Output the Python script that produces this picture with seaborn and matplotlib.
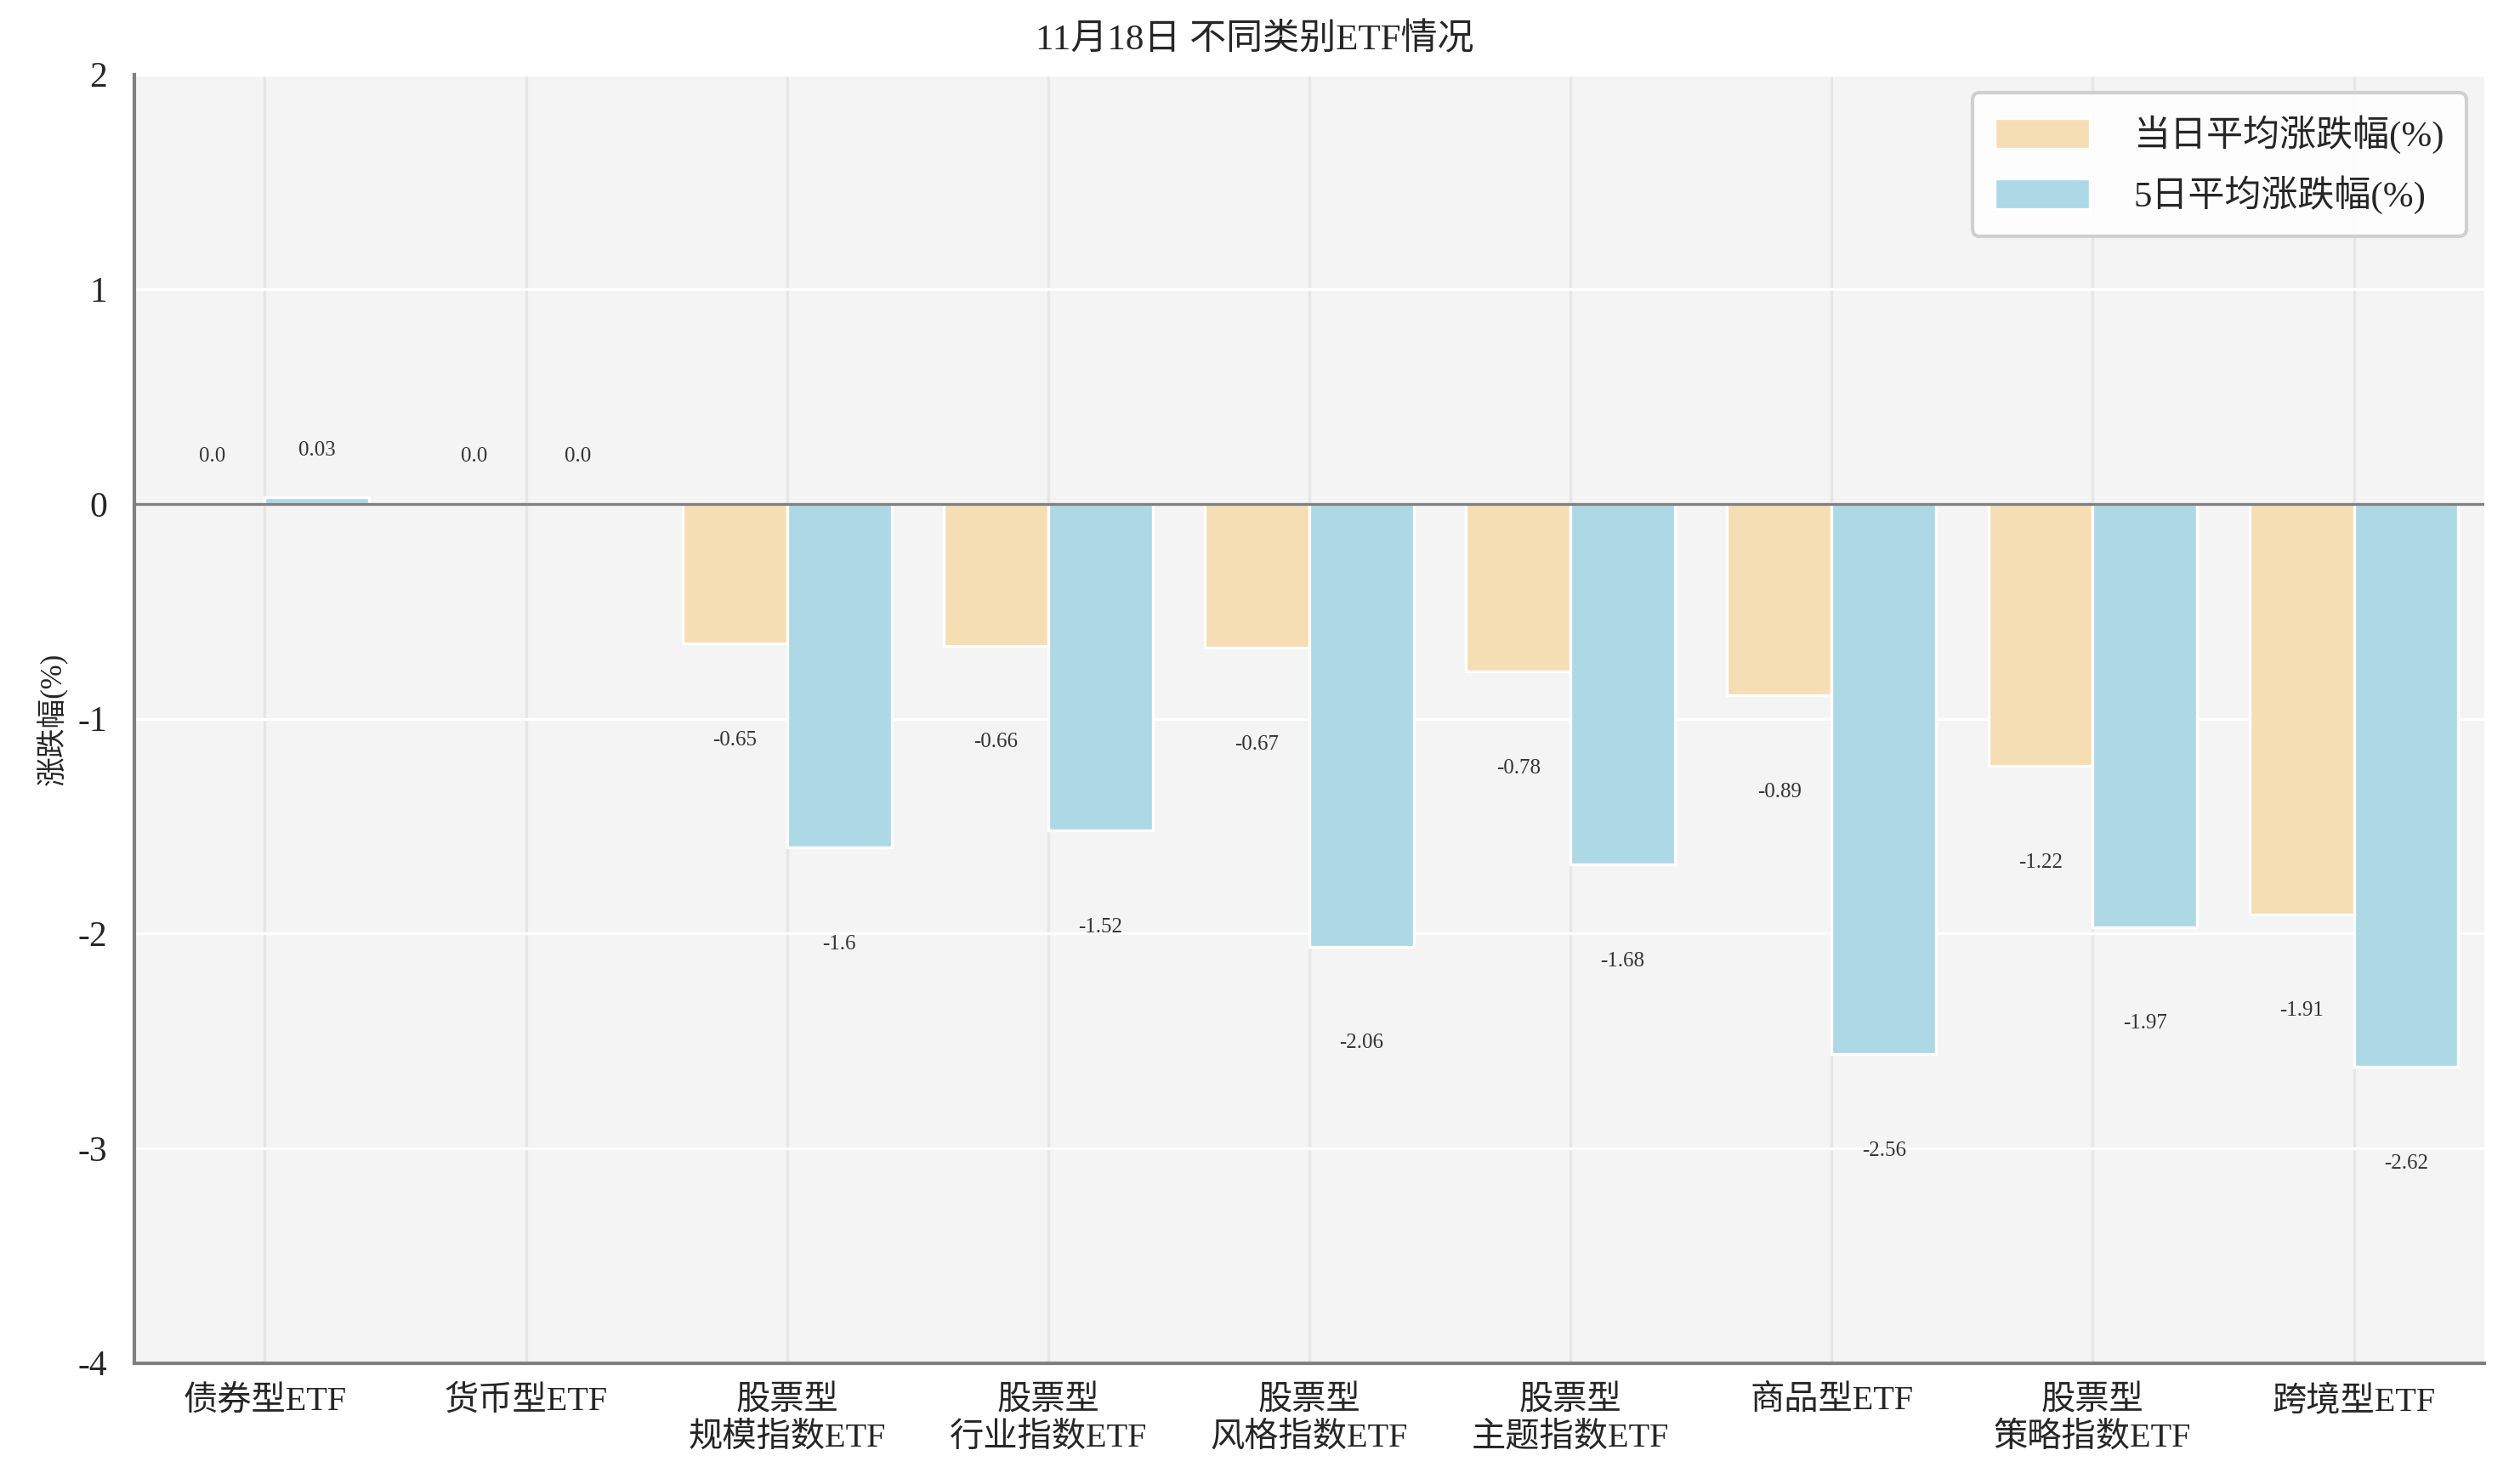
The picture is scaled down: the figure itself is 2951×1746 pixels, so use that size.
import pandas as pd
import matplotlib
matplotlib.use('Agg')
import matplotlib.pyplot as plt
import seaborn as sns

# 数据
categories = ['债券型ETF', '货币型ETF', '股票型\n规模指数ETF', '股票型\n行业指数ETF',
              '股票型\n风格指数ETF', '股票型\n主题指数ETF', '商品型ETF',
              '股票型\n策略指数ETF', '跨境型ETF']
day_change = [0.0, 0.0, -0.65, -0.66, -0.67, -0.78, -0.89, -1.22, -1.91]
five_day_change = [0.03, 0.0, -1.6, -1.52, -2.06, -1.68, -2.56, -1.97, -2.62]
series_names = ['当日平均涨跌幅(%)', '5日平均涨跌幅(%)']
y_ticks = [-4, -3, -2, -1, 0, 1, 2]

df = pd.DataFrame({'类别': categories * 2,
                   '涨跌幅': day_change + five_day_change,
                   '系列': [series_names[0]] * len(categories) + [series_names[1]] * len(categories)})

sns.set_style('darkgrid', {'axes.facecolor': '#f4f4f4', 'grid.color': 'white'})
plt.rcParams['font.family'] = ['Liberation Serif', 'Noto Sans CJK SC', 'DejaVu Sans']
plt.rcParams['axes.unicode_minus'] = False

fig = plt.figure(figsize=(14.755, 8.73), dpi=200)
ax = fig.add_axes([0.0535, 0.0815, 0.9367, 0.8683])

sns.barplot(data=df, x='类别', y='涨跌幅', hue='系列', order=categories,
            palette=['#F5DEB3', '#ADD8E6'], saturation=1, width=0.8, edgecolor='white',
            linewidth=1.2, ax=ax, zorder=3)

# 数值标签
for container in ax.containers:
    for bar in container:
        v = bar.get_height()
        x = bar.get_x() + bar.get_width() / 2
        if v >= 0:
            ax.text(x, v + 0.22, str(round(v, 2)), ha='center', va='center', fontsize=9, color='#333333', zorder=4)
        else:
            ax.text(x, v - 0.45, str(round(v, 2)), ha='center', va='center', fontsize=9, color='#333333', zorder=4)

ax.axhline(0, color='#808080', linewidth=1.2, zorder=4)
ax.set_ylim(-4, 2)
ax.set_yticks(y_ticks)
ax.set_yticklabels([str(t) for t in y_ticks], fontsize=15)
ax.set_xlim(-0.5, len(categories) - 0.5)
ax.tick_params(axis='x', labelsize=14.5, pad=6)
ax.tick_params(axis='y', pad=8)
ax.grid(axis='x', color='#e6e6e6', linewidth=1.2)
ax.grid(axis='y', color='white', linewidth=1.2)

for side in ['top', 'right']:
    ax.spines[side].set_visible(False)
for side in ['left', 'bottom']:
    ax.spines[side].set_visible(True)
    ax.spines[side].set_color('#808080')
    ax.spines[side].set_linewidth(1.5)

ax.set_xlabel('')
ax.set_ylabel('涨跌幅(%)', fontsize=12.5)
fig.text(0.5, 0.973, '11月18日 不同类别ETF情况', ha='center', va='center', fontsize=15.5)

leg = ax.legend(loc='upper right', fontsize=15.5, frameon=True, fancybox=True,
                edgecolor='#cccccc', framealpha=0.9, handlelength=2.6, handleheight=0.9,
                borderpad=0.6, labelspacing=0.6, handletextpad=1.2)
leg.get_frame().set_linewidth(1.5)
leg.get_frame().set_facecolor('white')

fig.savefig('out.png', dpi=200)
